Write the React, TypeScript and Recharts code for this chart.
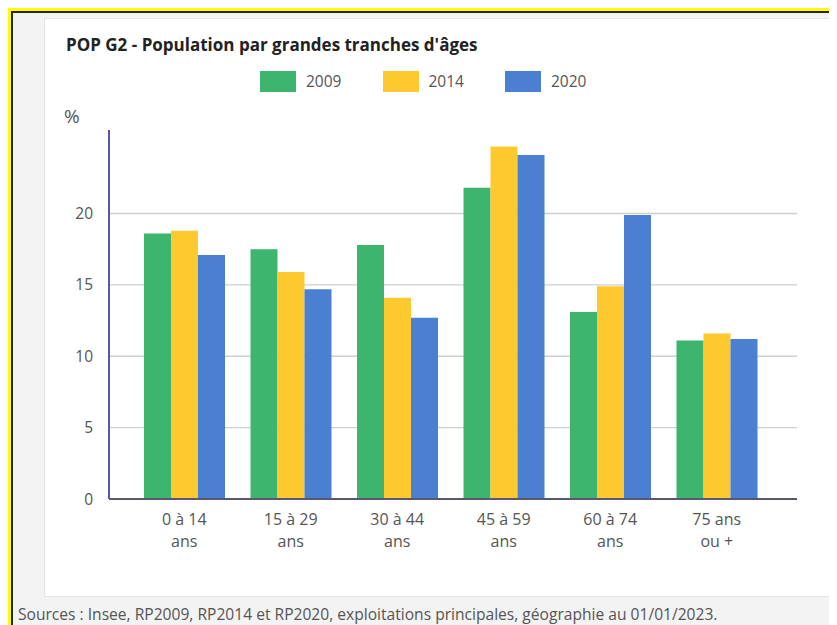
import React from "react";
import { BarChart, Bar, XAxis, YAxis, CartesianGrid } from "recharts";

const categories = ["0 à 14\nans", "15 à 29\nans", "30 à 44\nans", "45 à 59\nans", "60 à 74\nans", "75 ans\nou +"];
const values2009 = [18.6, 17.5, 17.8, 21.8, 13.1, 11.1];
const values2014 = [18.8, 15.9, 14.1, 24.7, 14.9, 11.6];
const values2020 = [17.1, 14.7, 12.7, 24.1, 19.9, 11.2];
const yTicks = [0, 5, 10, 15, 20];
const gridValues = [5, 10, 15, 20];
const seriesNames = ["2009", "2014", "2020"];
const seriesColors = ["#3db56f", "#fdc92f", "#4a7fd1"];

const data = categories.map((c, i) => ({
  cat: c,
  y2009: values2009[i],
  y2014: values2014[i],
  y2020: values2020[i],
}));

const FONT = "'Open Sans', sans-serif";

const CatTick = (props: any) => {
  const { x, y, payload } = props;
  const lines = String(payload.value).split("\n");
  return (
    <text x={x} y={y} textAnchor="middle" fill="#555" fontSize={16} fontFamily={FONT}>
      {lines.map((l: string, i: number) => (
        <tspan key={i} x={x} dy={i === 0 ? 18 : 22}>
          {l}
        </tspan>
      ))}
    </text>
  );
};

export default function App() {
  return (
    <div
      style={{
        position: "relative",
        width: 829,
        height: 617,
        background: "#f3f3f3",
        overflow: "hidden",
        fontFamily: FONT,
      }}
    >
      {/* frame */}
      <div style={{ position: "absolute", left: 0, top: 0, width: 829, height: 3, background: "#ffff00" }} />
      <div style={{ position: "absolute", left: 0, top: 0, width: 3, height: 617, background: "#ffff00" }} />
      <div style={{ position: "absolute", left: 3, top: 3, width: 826, height: 1.5, background: "#222" }} />
      <div style={{ position: "absolute", left: 3, top: 3, width: 1.5, height: 614, background: "#222" }} />
      {/* card */}
      <div
        style={{
          position: "absolute",
          left: 36,
          top: 10,
          width: 791,
          height: 579,
          background: "#fff",
          border: "1px solid #e4e4e4",
          boxSizing: "border-box",
        }}
      />
      {/* title */}
      <div
        style={{
          position: "absolute",
          left: 58,
          top: 27,
          fontSize: 17,
          lineHeight: "20px",
          fontWeight: 700,
          color: "#222",
          whiteSpace: "nowrap",
        }}
      >
        POP G2 - Population par grandes tranches d'âges
      </div>
      {/* legend */}
      {seriesNames.map((n, i) => (
        <div
          key={n}
          style={{ position: "absolute", left: 252 + i * 122.5, top: 62.5, height: 21, display: "flex", alignItems: "center" }}
        >
          <div style={{ width: 36, height: 21, background: seriesColors[i] }} />
          <span style={{ marginLeft: 10, fontSize: 15.5, color: "#555", lineHeight: "21px" }}>{n}</span>
        </div>
      ))}
      {/* % label */}
      <div style={{ position: "absolute", left: 56, top: 96, fontSize: 19, color: "#555", lineHeight: "24px" }}>%</div>
      {/* chart */}
      <div style={{ position: "absolute", left: 36, top: 10 }}>
        <BarChart
          width={791}
          height={579}
          data={data}
          margin={{ top: 112, right: 38, bottom: 0, left: 0 }}
          barCategoryGap={13}
          barGap={0}
        >
          <CartesianGrid vertical={false} stroke="#cfcfcf" strokeWidth={1.3} horizontalValues={gridValues} />
          <XAxis
            dataKey="cat"
            height={98}
            interval={0}
            tickLine={false}
            axisLine={{ stroke: "#5a5870", strokeWidth: 2 }}
            tick={<CatTick />}
            padding={{ left: 22, right: 27 }}
          />
          <YAxis
            width={65}
            domain={[0, 25.85]}
            ticks={yTicks}
            allowDataOverflow
            tickLine={false}
            tickMargin={10}
            axisLine={{ stroke: "#5b57a8", strokeWidth: 2 }}
            tick={{ fill: "#555", fontSize: 15.5, fontFamily: FONT }}
          />
          <Bar dataKey="y2009" fill={seriesColors[0]} isAnimationActive={false} />
          <Bar dataKey="y2014" fill={seriesColors[1]} isAnimationActive={false} />
          <Bar dataKey="y2020" fill={seriesColors[2]} isAnimationActive={false} />
        </BarChart>
      </div>
      {/* source */}
      <div
        style={{
          position: "absolute",
          left: 10,
          top: 596,
          fontSize: 15.6,
          lineHeight: "20px",
          color: "#555",
          whiteSpace: "nowrap",
        }}
      >
        Sources : Insee, RP2009, RP2014 et RP2020, exploitations principales, géographie au 01/01/2023.
      </div>
    </div>
  );
}
